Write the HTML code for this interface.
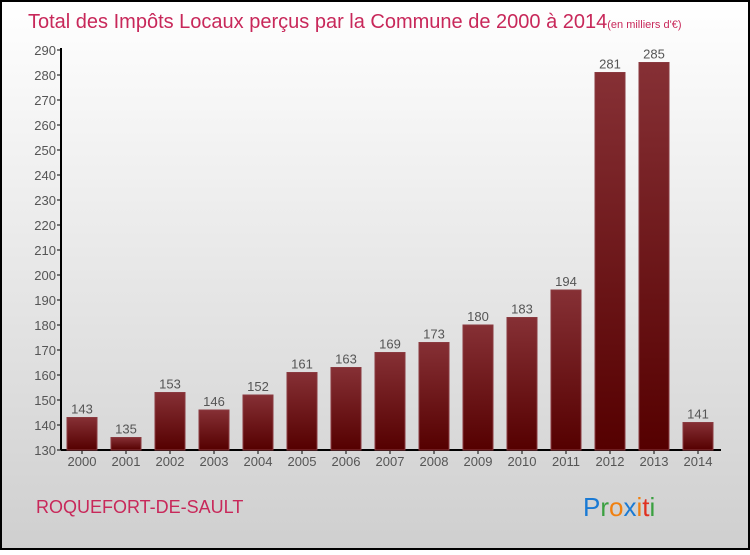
<!DOCTYPE html>
<html><head><meta charset="utf-8"><style>
body{margin:0}
#c{position:relative;width:750px;height:550px}
svg text{font-family:"Liberation Sans",sans-serif}
</style></head><body>
<div id="c">
<svg id="s" width="750" height="550" xmlns="http://www.w3.org/2000/svg">
<defs>
<linearGradient id="bg" x1="0" y1="0" x2="0" y2="1"><stop offset="0" stop-color="#ffffff"/><stop offset="1" stop-color="#cfcfcf"/></linearGradient>
<linearGradient id="bar" x1="0" y1="0" x2="0" y2="1"><stop offset="0" stop-color="#863035"/><stop offset="1" stop-color="#550000"/></linearGradient>
</defs>
<rect x="1" y="1" width="748" height="548" fill="url(#bg)" stroke="#000" stroke-width="2"/>
<text x="28" y="28" font-size="20" fill="#c8285a">Total des Impôts Locaux perçus par la Commune de 2000 à 2014<tspan font-size="11">(en milliers d'€)</tspan></text>
<g id="axes"></g><g id="bars"></g>
<text x="36" y="513" font-size="18" fill="#c8285a">ROQUEFORT-DE-SAULT</text>
<text x="583" y="516" font-size="26"><tspan fill="#1a7ad4">P</tspan><tspan fill="#3aa040">r</tspan><tspan fill="#f08010">o</tspan><tspan fill="#1a7ad4">x</tspan><tspan fill="#f08010">i</tspan><tspan fill="#e03020">t</tspan><tspan fill="#3aa040">i</tspan></text>
</svg></div>
<script>
const categories=["2000","2001","2002","2003","2004","2005","2006","2007","2008","2009","2010","2011","2012","2013","2014"];
const values=[143,135,153,146,152,161,163,169,173,180,183,194,281,285,141];
const yTicks=[130,140,150,160,170,180,190,200,210,220,230,240,250,260,270,280,290];
const NS="http://www.w3.org/2000/svg";
const y0=450,x0=61,ymin=130,ymax=290,ph=400;
function y(v){return y0-(v-ymin)/(ymax-ymin)*ph;}
function x(i){return 82+i*44;}
function mk(t,a,p,txt){const e=document.createElementNS(NS,t);for(const k in a)e.setAttribute(k,a[k]);if(txt!==undefined)e.textContent=txt;p.appendChild(e);return e;}
const ax=document.getElementById('axes'),bg=document.getElementById('bars');
let l=mk('line',{x1:x0,y1:y(ymax)-2,x2:x0,y2:y0,stroke:'#000','stroke-width':2},ax);


l=mk('line',{x1:x0,y1:y0,x2:721,y2:y0,stroke:'#000','stroke-width':2},ax);


yTicks.forEach(v=>{
 const t=mk('line',{x1:x0-4,y1:y(v),x2:x0,y2:y(v),stroke:'#000','stroke-width':1},ax);
 
 
 const tx=mk('text',{x:x0-5,y:y(v)+5,'font-size':13,fill:'#555','text-anchor':'end'},ax,v);
 
 
});
categories.forEach((c,i)=>{
 const t=mk('line',{x1:x(i),y1:y0,x2:x(i),y2:y0+4,stroke:'#000'},ax);
 
 
 const tx=mk('text',{x:x(i),y:y0+16,'font-size':13,fill:'#555','text-anchor':'middle'},ax,c);
 
 
 const r=mk('rect',{x:x(i)-15,y:y(values[i]),width:30,height:y0-y(values[i]),fill:'url(#bar)',stroke:'#8a3a40','stroke-width':1},bg);
 
 
 const lb=mk('text',{x:x(i),y:y(values[i])-4,'font-size':13,fill:'#555','text-anchor':'middle'},bg,values[i]);
 
 
});
</script></body></html>
